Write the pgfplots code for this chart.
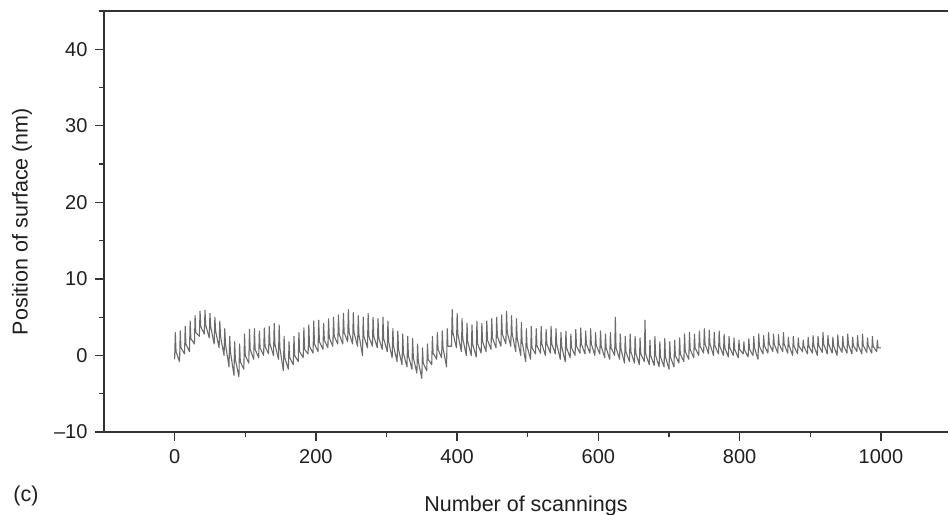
\documentclass[border=0pt]{standalone}
\usepackage{pgfplots}
\pgfplotsset{compat=1.18}
\usepackage{fontspec}
\setmainfont{Liberation Sans}
\begin{document}
\begin{tikzpicture}[x=1bp,y=1bp]
\path[use as bounding box] (-104bp,-83bp) rectangle (845bp,432bp);
\begin{axis}[
  at={(0,0)}, anchor=south west,
  scale only axis, width=844bp, height=421bp,
  xmin=-100, xmax=1095, ymin=-10, ymax=45,
  clip=false,
  axis x line=bottom, axis y line=left,
  axis line style={-, line width=1.5bp, draw=black!80},
  tick align=outside,
  major tick length=9bp, minor tick length=5bp,
  every tick/.style={line width=1.3bp, draw=black!80},
  xtick={0,200,400,600,800,1000},
  xticklabels={0,200,400,600,800,1000},
  minor xtick={100,300,500,700,900},
  ytick={-10,0,10,20,30,40},
  yticklabels={–10,0,10,20,30,40},
  minor ytick={-5,5,15,25,35,45},
  tick label style={font=\fontsize{20bp}{24bp}\selectfont, text=black!88},
  xticklabel style={yshift=-5bp},
  yticklabel style={xshift=-4bp},
  xlabel={Number of scannings},
  ylabel={Position of surface (nm)},
  label style={font=\fontsize{21.5bp}{26bp}\selectfont, text=black!88},
  xlabel style={at={(axis description cs:0.5,-0.175)}, anchor=center},
  ylabel style={at={(axis description cs:-0.0972,0.5)}, anchor=center},
]
\draw[line width=1.5bp, black!80] (rel axis cs:0,1) -- (rel axis cs:1,1);
\addplot[black!58, line width=1.1bp, line join=round] coordinates {
(0,-0.5)(1,3.0)(2,0.5)
(7,-0.8)(8,3.2)(9,1.0)
(14,0.2)(15,3.8)(16,1.5)
(21,0.5)(22,4.5)(23,2.2)
(28,1.5)(29,5.2)(30,3.0)
(35,2.5)(36,5.8)(37,3.8)
(42,2.8)(43,5.9)(44,4.0)
(49,2.3)(50,5.5)(51,3.8)
(56,1.5)(57,5.0)(58,3.2)
(63,1.0)(64,4.5)(65,2.5)
(70,0.0)(71,3.5)(72,1.5)
(77,-1.5)(78,2.5)(79,0.5)
(84,-2.6)(85,1.8)(86,-0.5)
(91,-2.8)(92,1.5)(93,-0.8)
(98,-1.8)(99,2.8)(100,0.0)
(105,-1.0)(106,3.4)(107,0.8)
(112,-0.5)(113,3.5)(114,0.8)
(119,-0.3)(120,3.2)(121,1.0)
(126,0.0)(127,3.6)(128,1.2)
(133,0.2)(134,3.8)(135,1.5)
(140,0.0)(141,4.2)(142,1.5)
(147,-0.5)(148,4.0)(149,1.0)
(154,-2.0)(155,2.5)(156,-0.3)
(161,-1.8)(162,1.8)(163,-0.3)
(168,-1.2)(169,2.5)(170,0.0)
(175,-0.8)(176,3.0)(177,0.5)
(182,-0.3)(183,3.6)(184,0.8)
(189,0.2)(190,4.0)(191,1.2)
(196,0.3)(197,4.5)(198,1.5)
(203,0.5)(204,4.6)(205,1.8)
(210,0.8)(211,4.2)(212,2.0)
(217,1.0)(218,4.8)(219,2.3)
(224,1.2)(225,5.0)(226,2.5)
(231,1.5)(232,5.3)(233,2.8)
(238,1.5)(239,5.5)(240,3.0)
(245,1.8)(246,6.0)(247,3.0)
(252,1.5)(253,5.6)(254,3.0)
(259,1.2)(260,5.2)(261,2.7)
(266,0.0)(267,5.0)(268,2.5)
(273,1.0)(274,5.5)(275,2.5)
(280,1.2)(281,5.0)(282,2.5)
(287,1.0)(288,4.8)(289,2.3)
(294,0.8)(295,5.0)(296,2.2)
(301,0.5)(302,4.5)(303,1.8)
(308,-0.3)(309,3.5)(310,1.2)
(315,-0.8)(316,3.2)(317,0.8)
(322,-1.2)(323,2.8)(324,0.3)
(329,-1.5)(330,2.5)(331,0.0)
(336,-1.8)(337,2.2)(338,-0.3)
(343,-2.3)(344,1.5)(345,-0.8)
(350,-3.0)(351,1.0)(352,-1.0)
(357,-2.0)(358,1.5)(359,-0.5)
(364,-1.2)(365,2.5)(366,0.3)
(371,-0.5)(372,3.0)(373,0.8)
(378,-0.3)(379,3.2)(380,1.0)
(385,-1.5)(386,3.5)(387,1.2)
(392,1.2)(393,6.0)(394,3.0)
(399,1.0)(400,5.5)(401,2.8)
(406,0.5)(407,4.8)(408,2.2)
(413,0.0)(414,4.2)(415,1.8)
(420,0.0)(421,4.0)(422,1.5)
(427,-0.2)(428,4.5)(429,1.5)
(434,0.3)(435,4.2)(436,1.8)
(441,0.5)(442,4.5)(443,2.0)
(448,0.8)(449,4.8)(450,2.3)
(455,1.0)(456,5.0)(457,2.5)
(462,1.2)(463,5.3)(464,2.8)
(469,1.5)(470,5.8)(471,3.0)
(476,1.2)(477,5.2)(478,2.8)
(483,0.5)(484,4.8)(485,2.3)
(490,0.0)(491,4.3)(492,1.8)
(497,-0.8)(498,3.5)(499,1.2)
(504,-0.5)(505,3.8)(506,1.0)
(511,0.2)(512,3.5)(513,1.3)
(518,0.3)(519,3.8)(520,1.5)
(525,0.0)(526,3.4)(527,1.5)
(532,0.3)(533,3.8)(534,1.5)
(539,0.2)(540,3.5)(541,1.5)
(546,-0.5)(547,3.0)(548,1.2)
(553,-0.8)(554,3.2)(555,1.0)
(560,-0.3)(561,2.8)(562,1.0)
(567,0.0)(568,3.4)(569,1.2)
(574,0.3)(575,3.6)(576,1.5)
(581,0.2)(582,3.2)(583,1.5)
(588,0.3)(589,3.5)(590,1.5)
(595,0.0)(596,3.0)(597,1.3)
(602,0.2)(603,3.2)(604,1.2)
(609,-0.3)(610,2.8)(611,1.0)
(616,-0.5)(617,3.0)(618,1.0)
(623,0.0)(624,5.0)(625,1.0)
(630,-0.5)(631,2.8)(632,0.8)
(637,-1.0)(638,2.5)(639,0.5)
(644,-0.8)(645,2.8)(646,0.5)
(651,-1.0)(652,2.5)(653,0.3)
(658,-1.2)(659,2.3)(660,0.2)
(665,-0.8)(666,4.6)(667,0.2)
(672,-1.2)(673,2.0)(674,0.0)
(679,-1.3)(680,2.5)(681,0.0)
(686,-1.5)(687,1.8)(688,-0.2)
(693,-1.5)(694,2.2)(695,-0.2)
(700,-1.8)(701,1.8)(702,-0.2)
(707,-1.5)(708,2.0)(709,0.0)
(714,-1.0)(715,2.3)(716,0.2)
(721,-0.8)(722,2.8)(723,0.5)
(728,-0.5)(729,3.0)(730,0.8)
(735,-0.3)(736,2.8)(737,1.0)
(742,0.0)(743,3.2)(744,1.2)
(749,0.3)(750,3.5)(751,1.5)
(756,0.2)(757,3.3)(758,1.5)
(763,0.0)(764,3.0)(765,1.3)
(770,0.2)(771,3.2)(772,1.2)
(777,0.0)(778,2.8)(779,1.0)
(784,-0.2)(785,2.5)(786,1.0)
(791,0.0)(792,2.3)(793,0.8)
(798,-0.3)(799,2.0)(800,0.8)
(805,0.2)(806,1.8)(807,0.7)
(812,-0.2)(813,2.2)(814,0.8)
(819,0.0)(820,2.5)(821,1.0)
(826,-0.5)(827,2.8)(828,1.2)
(833,0.2)(834,2.6)(835,1.3)
(840,0.3)(841,3.0)(842,1.5)
(847,0.5)(848,2.8)(849,1.5)
(854,0.3)(855,2.7)(856,1.5)
(861,0.5)(862,3.0)(863,1.5)
(868,0.3)(869,2.4)(870,1.3)
(875,0.0)(876,2.5)(877,1.2)
(882,0.2)(883,2.3)(884,1.2)
(889,0.5)(890,2.0)(891,1.2)
(896,0.2)(897,2.4)(898,1.2)
(903,0.3)(904,2.6)(905,1.3)
(910,0.0)(911,2.5)(912,1.3)
(917,0.4)(918,3.0)(919,1.5)
(924,0.2)(925,2.6)(926,1.5)
(931,0.3)(932,2.4)(933,1.3)
(938,0.0)(939,2.7)(940,1.3)
(945,0.4)(946,2.5)(947,1.3)
(952,0.3)(953,2.8)(954,1.5)
(959,0.2)(960,2.4)(961,1.3)
(966,0.5)(967,2.6)(968,1.3)
(973,0.2)(974,2.8)(975,1.3)
(980,0.4)(981,2.3)(982,1.3)
(987,0.3)(988,2.5)(989,1.2)
(994,0.5)(995,2.0)(996,1.0)
(1000,1.0)
};
\end{axis}
\node[font=\fontsize{21.5bp}{26bp}\selectfont, text=black!88] at (-78bp,-64bp) {(c)};
\end{tikzpicture}
\end{document}
